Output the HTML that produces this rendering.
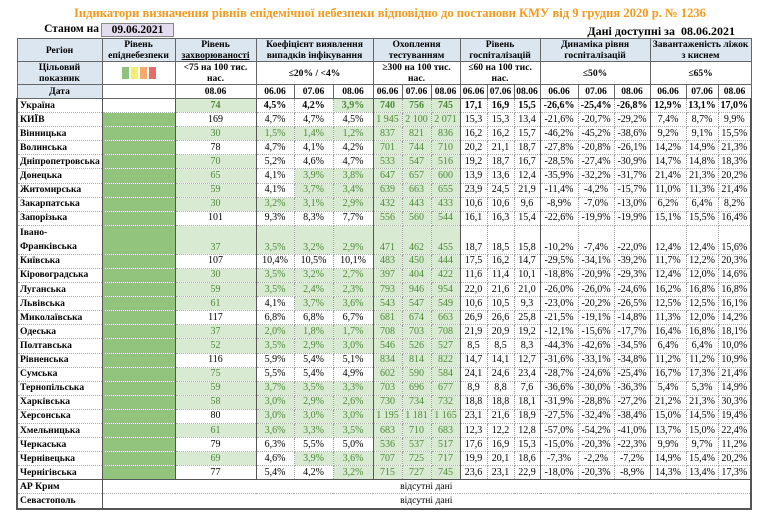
<!DOCTYPE html>
<html><head><meta charset="utf-8">
<style>
body{margin:0;width:780px;height:519px;background:#fff;position:relative;font-family:"Liberation Serif","DejaVu Serif",serif;color:#000;overflow:hidden}
.title{position:absolute;left:0;width:780px;top:6px;text-align:center;font-weight:bold;font-size:12.6px;color:#f39a1e}
.st{position:absolute;right:681px;top:23px;font-weight:bold;font-size:11.5px}
.dbox{position:absolute;left:101px;top:23px;width:73px;height:14px;background:#e3dcef;border:1px solid #888;box-sizing:border-box;text-align:center;font-weight:bold;font-size:11.5px;line-height:13px}
.av{position:absolute;right:45px;top:24px;font-weight:bold;font-size:12px}
table{position:absolute;left:16px;top:38px;border-collapse:collapse;table-layout:fixed;width:734px;font-size:10px}
td{padding:0;text-align:center;white-space:nowrap;overflow:hidden;border-left:1px dotted #999;border-right:1px dotted #999;border-top:1px dotted #aaa;border-bottom:1px dotted #aaa;height:13px;line-height:12px}
tr.r td{height:13.1px}
.h td{background:#dce6f1;font-weight:bold;border:1px solid #666;line-height:11px;font-size:9.6px}
.h2 td{background:#fff;font-weight:bold;border:1px solid #666;line-height:11px;font-size:9.6px}
td.b{background:#dce6f1}
td.n{text-align:left;font-weight:bold;padding-left:2px;border-left:2px solid #555;border-right:1px solid #555;font-size:9.6px}
td.e{background:#93c47d;border-right:1px solid #555;border-left:1px solid #555}
td.g{background:#d9ead3;color:#4e8a38}
td.L{border-left:1px solid #555}
td.R{border-right:2px solid #555}
.sq{display:inline-block;width:7px;height:12px;margin:0 1px;vertical-align:middle}
tr.u td{font-weight:bold}
</style></head><body>
<div class="title">Індикатори визначення рівнів епідемічної небезпеки відповідно до постанови КМУ від 9 грудня 2020 р. № 1236</div>
<div class="st">Станом на</div>
<div class="dbox">09.06.2021</div>
<div class="av">Дані доступні за&nbsp; 08.06.2021</div>
<table>
<colgroup><col style="width:85px"><col style="width:73px"><col style="width:81px"><col style="width:38px"><col style="width:39px"><col style="width:40px"><col style="width:29px"><col style="width:29px"><col style="width:29px"><col style="width:27px"><col style="width:27px"><col style="width:26px"><col style="width:38px"><col style="width:36px"><col style="width:36px"><col style="width:36px"><col style="width:32px"><col style="width:33px"></colgroup>
<tr class="h"><td style="height:22px">Регіон</td><td>Рівень<br>епіднебезпеки</td><td>Рівень<br><u>захворюваності</u></td><td colspan="3">Коефіцієнт виявлення<br>випадків інфікування</td><td colspan="3">Охоплення<br>тестуванням</td><td colspan="3">Рівень<br>госпіталізацій</td><td colspan="3">Динаміка рівня<br>госпіталізацій</td><td colspan="3">Завантаженість ліжок<br>з киснем</td></tr>
<tr class="h2"><td class="b" style="height:22px">Цільовий<br>показник</td><td><span class="sq" style="background:#8fc27a"></span><span class="sq" style="background:#f3ef6c"></span><span class="sq" style="background:#f5a96b"></span><span class="sq" style="background:#e96a6a"></span></td><td>&lt;75 на 100 тис.<br>нас.</td><td colspan="3">≤20% / &lt;4%</td><td colspan="3">≥300 на 100 тис.<br>нас.</td><td colspan="3">≤60 на 100 тис.<br>нас.</td><td colspan="3">≤50%</td><td colspan="3">≤65%</td></tr>
<tr class="h2"><td class="b" style="height:13px">Дата</td><td></td><td>08.06</td><td>06.06</td><td>07.06</td><td>08.06</td><td>06.06</td><td>07.06</td><td>08.06</td><td>06.06</td><td>07.06</td><td>08.06</td><td>06.06</td><td>07.06</td><td>08.06</td><td>06.06</td><td>07.06</td><td>08.06</td></tr>
<tr class="r u"><td class="n">Україна</td><td style="border-right:1px solid #555"></td><td class="g">74</td><td class="L">4,5%</td><td>4,2%</td><td class="g">3,9%</td><td class="g L">740</td><td class="g">756</td><td class="g">745</td><td class="L">17,1</td><td>16,9</td><td>15,5</td><td class="L">-26,6%</td><td>-25,4%</td><td>-26,8%</td><td class="L">12,9%</td><td>13,1%</td><td class="R">17,0%</td></tr>
<tr class="r"><td class="n">КИЇВ</td><td class="e"></td><td>169</td><td class="L">4,7%</td><td>4,7%</td><td>4,5%</td><td class="g L">1 945</td><td class="g">2 100</td><td class="g">2 071</td><td class="L">15,3</td><td>15,3</td><td>13,4</td><td class="L">-21,6%</td><td>-20,7%</td><td>-29,2%</td><td class="L">7,4%</td><td>8,7%</td><td class="R">9,9%</td></tr>
<tr class="r"><td class="n">Вінницька</td><td class="e"></td><td class="g">30</td><td class="g L">1,5%</td><td class="g">1,4%</td><td class="g">1,2%</td><td class="g L">837</td><td class="g">821</td><td class="g">836</td><td class="L">16,2</td><td>16,2</td><td>15,7</td><td class="L">-46,2%</td><td>-45,2%</td><td>-38,6%</td><td class="L">9,2%</td><td>9,1%</td><td class="R">15,5%</td></tr>
<tr class="r"><td class="n">Волинська</td><td class="e"></td><td>78</td><td class="L">4,7%</td><td>4,1%</td><td>4,2%</td><td class="g L">701</td><td class="g">744</td><td class="g">710</td><td class="L">20,2</td><td>21,1</td><td>18,7</td><td class="L">-27,8%</td><td>-20,8%</td><td>-26,1%</td><td class="L">14,2%</td><td>14,9%</td><td class="R">21,3%</td></tr>
<tr class="r"><td class="n">Дніпропетровська</td><td class="e"></td><td class="g">70</td><td class="L">5,2%</td><td>4,6%</td><td>4,7%</td><td class="g L">533</td><td class="g">547</td><td class="g">516</td><td class="L">19,2</td><td>18,7</td><td>16,7</td><td class="L">-28,5%</td><td>-27,4%</td><td>-30,9%</td><td class="L">14,7%</td><td>14,8%</td><td class="R">18,3%</td></tr>
<tr class="r"><td class="n">Донецька</td><td class="e"></td><td class="g">65</td><td class="L">4,1%</td><td class="g">3,9%</td><td class="g">3,8%</td><td class="g L">647</td><td class="g">657</td><td class="g">600</td><td class="L">13,9</td><td>13,6</td><td>12,4</td><td class="L">-35,9%</td><td>-32,2%</td><td>-31,7%</td><td class="L">21,4%</td><td>21,3%</td><td class="R">20,2%</td></tr>
<tr class="r"><td class="n">Житомирська</td><td class="e"></td><td class="g">59</td><td class="L">4,1%</td><td class="g">3,7%</td><td class="g">3,4%</td><td class="g L">639</td><td class="g">663</td><td class="g">655</td><td class="L">23,9</td><td>24,5</td><td>21,9</td><td class="L">-11,4%</td><td>-4,2%</td><td>-15,7%</td><td class="L">11,0%</td><td>11,3%</td><td class="R">21,4%</td></tr>
<tr class="r"><td class="n">Закарпатська</td><td class="e"></td><td class="g">30</td><td class="g L">3,2%</td><td class="g">3,1%</td><td class="g">2,9%</td><td class="g L">432</td><td class="g">443</td><td class="g">433</td><td class="L">10,6</td><td>10,6</td><td>9,6</td><td class="L">-8,9%</td><td>-7,0%</td><td>-13,0%</td><td class="L">6,2%</td><td>6,4%</td><td class="R">8,2%</td></tr>
<tr class="r"><td class="n">Запорізька</td><td class="e"></td><td>101</td><td class="L">9,3%</td><td>8,3%</td><td>7,7%</td><td class="g L">556</td><td class="g">560</td><td class="g">544</td><td class="L">16,1</td><td>16,3</td><td>15,4</td><td class="L">-22,6%</td><td>-19,9%</td><td>-19,9%</td><td class="L">15,1%</td><td>15,5%</td><td class="R">16,4%</td></tr>
<tr style="height:28px"><td class="n" style="line-height:14px;vertical-align:bottom">Івано-<br>Франківська</td><td class="e"></td><td class="g" style="vertical-align:bottom">37</td><td class="g L" style="vertical-align:bottom">3,5%</td><td class="g" style="vertical-align:bottom">3,2%</td><td class="g" style="vertical-align:bottom">2,9%</td><td class="g L" style="vertical-align:bottom">471</td><td class="g" style="vertical-align:bottom">462</td><td class="g" style="vertical-align:bottom">455</td><td class="L" style="vertical-align:bottom">18,7</td><td style="vertical-align:bottom">18,5</td><td style="vertical-align:bottom">15,8</td><td class="L" style="vertical-align:bottom">-10,2%</td><td style="vertical-align:bottom">-7,4%</td><td style="vertical-align:bottom">-22,0%</td><td class="L" style="vertical-align:bottom">12,4%</td><td style="vertical-align:bottom">12,4%</td><td class="R" style="vertical-align:bottom">15,6%</td></tr>
<tr class="r"><td class="n">Київська</td><td class="e"></td><td>107</td><td class="L">10,4%</td><td>10,5%</td><td>10,1%</td><td class="g L">483</td><td class="g">450</td><td class="g">444</td><td class="L">17,5</td><td>16,2</td><td>14,7</td><td class="L">-29,5%</td><td>-34,1%</td><td>-39,2%</td><td class="L">11,7%</td><td>12,2%</td><td class="R">20,3%</td></tr>
<tr class="r"><td class="n">Кіровоградська</td><td class="e"></td><td class="g">30</td><td class="g L">3,5%</td><td class="g">3,2%</td><td class="g">2,7%</td><td class="g L">397</td><td class="g">404</td><td class="g">422</td><td class="L">11,6</td><td>11,4</td><td>10,1</td><td class="L">-18,8%</td><td>-20,9%</td><td>-29,3%</td><td class="L">12,4%</td><td>12,0%</td><td class="R">14,6%</td></tr>
<tr class="r"><td class="n">Луганська</td><td class="e"></td><td class="g">59</td><td class="g L">3,5%</td><td class="g">2,4%</td><td class="g">2,3%</td><td class="g L">793</td><td class="g">946</td><td class="g">954</td><td class="L">22,0</td><td>21,6</td><td>21,0</td><td class="L">-26,0%</td><td>-26,0%</td><td>-24,6%</td><td class="L">16,2%</td><td>16,8%</td><td class="R">16,8%</td></tr>
<tr class="r"><td class="n">Львівська</td><td class="e"></td><td class="g">61</td><td class="L">4,1%</td><td class="g">3,7%</td><td class="g">3,6%</td><td class="g L">543</td><td class="g">547</td><td class="g">549</td><td class="L">10,6</td><td>10,5</td><td>9,3</td><td class="L">-23,0%</td><td>-20,2%</td><td>-26,5%</td><td class="L">12,5%</td><td>12,5%</td><td class="R">16,1%</td></tr>
<tr class="r"><td class="n">Миколаївська</td><td class="e"></td><td>117</td><td class="L">6,8%</td><td>6,8%</td><td>6,7%</td><td class="g L">681</td><td class="g">674</td><td class="g">663</td><td class="L">26,9</td><td>26,6</td><td>25,8</td><td class="L">-21,5%</td><td>-19,1%</td><td>-14,8%</td><td class="L">11,3%</td><td>12,0%</td><td class="R">14,2%</td></tr>
<tr class="r"><td class="n">Одеська</td><td class="e"></td><td class="g">37</td><td class="g L">2,0%</td><td class="g">1,8%</td><td class="g">1,7%</td><td class="g L">708</td><td class="g">703</td><td class="g">708</td><td class="L">21,9</td><td>20,9</td><td>19,2</td><td class="L">-12,1%</td><td>-15,6%</td><td>-17,7%</td><td class="L">16,4%</td><td>16,8%</td><td class="R">18,1%</td></tr>
<tr class="r"><td class="n">Полтавська</td><td class="e"></td><td class="g">52</td><td class="g L">3,5%</td><td class="g">2,9%</td><td class="g">3,0%</td><td class="g L">546</td><td class="g">526</td><td class="g">527</td><td class="L">8,5</td><td>8,5</td><td>8,3</td><td class="L">-44,3%</td><td>-42,6%</td><td>-34,5%</td><td class="L">6,4%</td><td>6,4%</td><td class="R">10,0%</td></tr>
<tr class="r"><td class="n">Рівненська</td><td class="e"></td><td>116</td><td class="L">5,9%</td><td>5,4%</td><td>5,1%</td><td class="g L">834</td><td class="g">814</td><td class="g">822</td><td class="L">14,7</td><td>14,1</td><td>12,7</td><td class="L">-31,6%</td><td>-33,1%</td><td>-34,8%</td><td class="L">11,2%</td><td>11,2%</td><td class="R">10,9%</td></tr>
<tr class="r"><td class="n">Сумська</td><td class="e"></td><td class="g">75</td><td class="L">5,5%</td><td>5,4%</td><td>4,9%</td><td class="g L">602</td><td class="g">590</td><td class="g">584</td><td class="L">24,1</td><td>24,6</td><td>23,4</td><td class="L">-28,7%</td><td>-24,6%</td><td>-25,4%</td><td class="L">16,7%</td><td>17,3%</td><td class="R">21,4%</td></tr>
<tr class="r"><td class="n">Тернопільська</td><td class="e"></td><td class="g">59</td><td class="g L">3,7%</td><td class="g">3,5%</td><td class="g">3,3%</td><td class="g L">703</td><td class="g">696</td><td class="g">677</td><td class="L">8,9</td><td>8,8</td><td>7,6</td><td class="L">-36,6%</td><td>-30,0%</td><td>-36,3%</td><td class="L">5,4%</td><td>5,3%</td><td class="R">14,9%</td></tr>
<tr class="r"><td class="n">Харківська</td><td class="e"></td><td class="g">58</td><td class="g L">3,0%</td><td class="g">2,9%</td><td class="g">2,6%</td><td class="g L">730</td><td class="g">734</td><td class="g">732</td><td class="L">18,8</td><td>18,8</td><td>18,1</td><td class="L">-31,9%</td><td>-28,8%</td><td>-27,2%</td><td class="L">21,2%</td><td>21,3%</td><td class="R">30,3%</td></tr>
<tr class="r"><td class="n">Херсонська</td><td class="e"></td><td>80</td><td class="g L">3,0%</td><td class="g">3,0%</td><td class="g">3,0%</td><td class="g L">1 195</td><td class="g">1 181</td><td class="g">1 165</td><td class="L">23,1</td><td>21,6</td><td>18,9</td><td class="L">-27,5%</td><td>-32,4%</td><td>-38,4%</td><td class="L">15,0%</td><td>14,5%</td><td class="R">19,4%</td></tr>
<tr class="r"><td class="n">Хмельницька</td><td class="e"></td><td class="g">61</td><td class="g L">3,6%</td><td class="g">3,3%</td><td class="g">3,5%</td><td class="g L">683</td><td class="g">710</td><td class="g">683</td><td class="L">12,3</td><td>12,2</td><td>12,8</td><td class="L">-57,0%</td><td>-54,2%</td><td>-41,0%</td><td class="L">13,7%</td><td>15,0%</td><td class="R">22,4%</td></tr>
<tr class="r"><td class="n">Черкаська</td><td class="e"></td><td>79</td><td class="L">6,3%</td><td>5,5%</td><td>5,0%</td><td class="g L">536</td><td class="g">537</td><td class="g">517</td><td class="L">17,6</td><td>16,9</td><td>15,3</td><td class="L">-15,0%</td><td>-20,3%</td><td>-22,3%</td><td class="L">9,9%</td><td>9,7%</td><td class="R">11,2%</td></tr>
<tr class="r"><td class="n">Чернівецька</td><td class="e"></td><td class="g">69</td><td class="L">4,6%</td><td class="g">3,9%</td><td class="g">3,6%</td><td class="g L">707</td><td class="g">725</td><td class="g">717</td><td class="L">19,9</td><td>20,1</td><td>18,6</td><td class="L">-7,3%</td><td>-2,2%</td><td>-7,2%</td><td class="L">14,9%</td><td>15,4%</td><td class="R">20,2%</td></tr>
<tr class="r"><td class="n">Чернігівська</td><td class="e"></td><td>77</td><td class="L">5,4%</td><td>4,2%</td><td class="g">3,2%</td><td class="g L">715</td><td class="g">727</td><td class="g">745</td><td class="L">23,6</td><td>23,1</td><td>22,9</td><td class="L">-18,0%</td><td>-20,3%</td><td>-8,9%</td><td class="L">14,3%</td><td>13,4%</td><td class="R">17,3%</td></tr>
<tr class="r"><td class="n" style="border-top:1px solid #555">АР Крим</td><td colspan="17" class="R" style="border-top:1px solid #555;font-size:9.6px">відсутні дані</td></tr>
<tr class="r"><td class="n" style="border-bottom:2px solid #555">Севастополь</td><td colspan="17" class="R" style="border-bottom:2px solid #555;font-size:9.6px">відсутні дані</td></tr>
</table>
</body></html>
